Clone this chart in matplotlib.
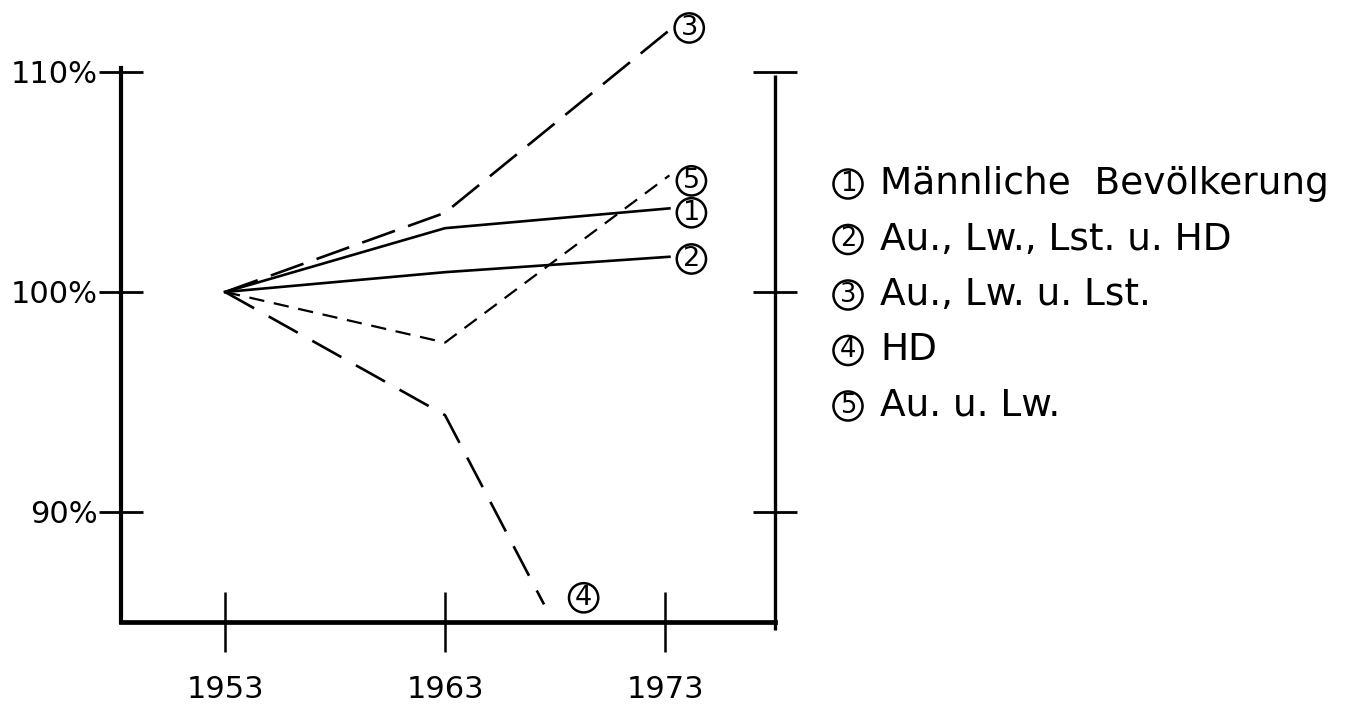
import matplotlib
matplotlib.use("Agg")
import matplotlib.pyplot as plt

plt.rcParams['font.family'] = ['DejaVu Sans', 'Noto Sans CJK SC']
plt.rcParams['lines.scale_dashes'] = False

# ---- data ----
years_1 = [1953, 1963, 1973.2]
vals_1 = [100, 102.9, 103.8]          # (1) Männliche Bevölkerung
years_2 = [1953, 1963, 1973.2]
vals_2 = [100, 100.9, 101.6]          # (2) Au., Lw., Lst. u. HD
years_3 = [1953, 1963, 1973.2]
vals_3 = [100, 103.6, 111.9]          # (3) Au., Lw. u. Lst.
years_4 = [1953, 1963, 1967.5]
vals_4 = [100, 94.4, 85.8]            # (4) HD
years_5 = [1953, 1963, 1973.2]
vals_5 = [100, 97.7, 105.3]           # (5) Au. u. Lw.

x_ticks = [1953, 1963, 1973]
x_labels = ['1953', '1963', '1973']
y_ticks = [90, 100, 110]
y_labels = ['90%', '100%', '110%']

legend_items = ['M\u00e4nnliche  Bev\u00f6lkerung',
                'Au., Lw., Lst. u. HD',
                'Au., Lw. u. Lst.',
                'HD',
                'Au. u. Lw.']
series_numbers = ['1', '2', '3', '4', '5']

W, H = 1351, 720
fig = plt.figure(figsize=(W / 100, H / 100), dpi=100)
ax_l, ax_r, ax_t, ax_b = 121, 775, 68, 622
ax = fig.add_axes([ax_l / W, 1 - ax_b / H, (ax_r - ax_l) / W, (ax_b - ax_t) / H])
ax.set_xlim(1948.27, 1978.0)
ax.set_ylim(85.0, 110.18)

for s in ['top', 'right']:
    ax.spines[s].set_visible(False)
ax.spines['left'].set_linewidth(3.0)
ax.spines['bottom'].set_linewidth(3.4)
# right axis (hand drawn, slightly different extent)
ax.plot([1, 1], [-0.015, 0.987], transform=ax.transAxes, color='black',
        lw=2.4, clip_on=False, solid_capstyle='butt')

ax.set_xticks(x_ticks)
ax.set_xticklabels(x_labels)
ax.set_yticks(y_ticks)
ax.set_yticklabels(y_labels)
ax.tick_params(axis='x', direction='inout', length=43, width=1.8, pad=17,
               labelsize=22)
ax.tick_params(axis='y', direction='inout', length=32, width=2.0, pad=1,
               labelsize=22, right=True)

kw = dict(color='black', clip_on=False, solid_joinstyle='miter')
ax.plot(years_1, vals_1, lw=1.9, **kw)
ax.plot(years_2, vals_2, lw=1.9, **kw)
ax.plot(years_3, vals_3, lw=1.9, dashes=(25, 10), **kw)
ax.plot(years_4, vals_4, lw=1.9, dashes=(24, 12), **kw)
ax.plot(years_5, vals_5, lw=1.6, dashes=(11, 7), **kw)

circ = dict(boxstyle='circle,pad=0.06', fc='white', ec='black', lw=1.8)

# circled end labels
ends = [(years_1[-1], vals_1[-1]), (years_2[-1], vals_2[-1]),
        (years_3[-1], vals_3[-1]), (years_4[-1], vals_4[-1]),
        (years_5[-1], vals_5[-1])]
offsets = [(1.0, -0.2), (1.0, -0.1), (0.9, 0.1), (1.8, 0.3), (1.0, -0.25)]
for m, (x, y), (dx, dy) in zip(series_numbers, ends, offsets):
    ax.text(x + dx, y + dy, m, fontsize=19.5, ha='center', va='center',
            bbox=circ, clip_on=False)

# legend text
for i, t in enumerate(legend_items):
    yy = 1 - (184 + i * 55.5) / H
    fig.text(848 / W, yy, series_numbers[i], fontsize=18.5, ha='center',
             va='center', bbox=circ)
    fig.text(880 / W, yy, t, fontsize=27, ha='left', va='center')

fig.savefig('out.png', dpi=100, facecolor='white')
